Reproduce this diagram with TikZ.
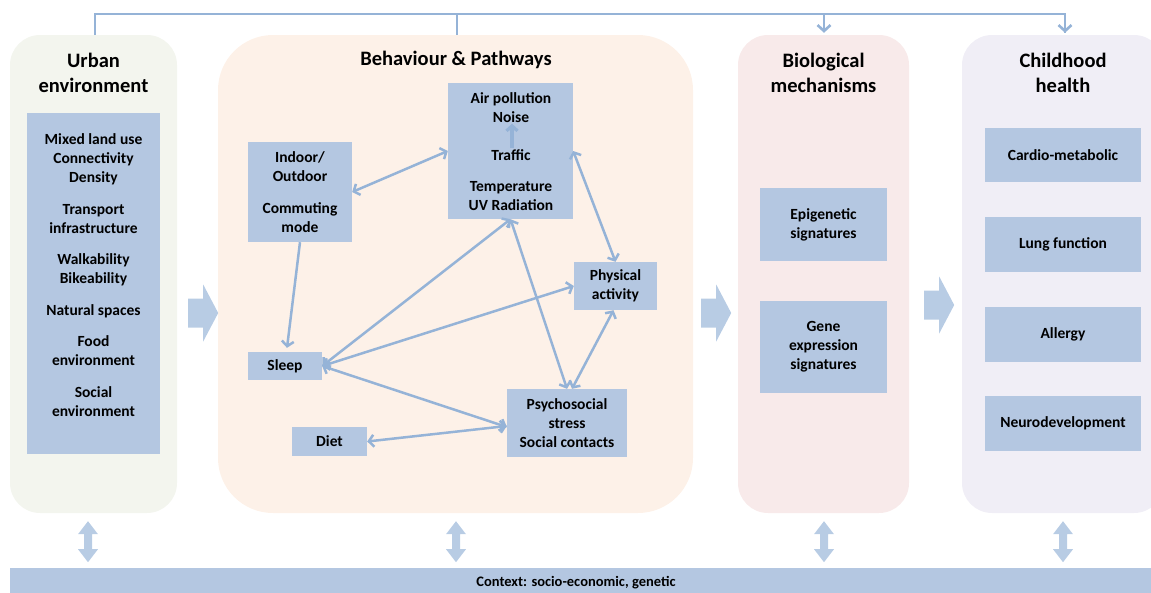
\documentclass[tikz,border=0pt]{standalone}
\usepackage{fontspec}
\setmainfont{Carlito}
\usetikzlibrary{arrows.meta,calc}
\definecolor{linec}{HTML}{95B3D7}
\definecolor{boxc}{HTML}{B4C7E1}
\definecolor{arrc}{HTML}{B8CCE4}
\definecolor{urbc}{HTML}{F3F5EE}
\definecolor{behc}{HTML}{FDF1E8}
\definecolor{bioc}{HTML}{F8EAEA}
\definecolor{chc}{HTML}{F0EEF6}
\tikzset{
  panel/.style={rounded corners=30pt, inner sep=0pt},
  bx/.style={fill=boxc, inner sep=0pt, align=center, font=\bfseries\fontsize{15.5}{19}\selectfont},
  txt/.style={inner sep=0pt, align=center, font=\bfseries\fontsize{15.5}{19}\selectfont},
  ttl/.style={inner sep=0pt, align=center, font=\bfseries\fontsize{20.5}{25}\selectfont},
  conn/.style={draw=linec, line width=2.5pt, >={Straight Barb[length=5pt,width=12pt]}},
  trafficarrow/.style={draw=linec, line width=3.2pt, >={Straight Barb[length=5pt,width=11pt]}},
  topl/.style={draw=linec, line width=2.6pt, >={Straight Barb[length=6pt,width=13pt]}},
  blockarrow/.pic={\fill[arrc] (0,-14.5) -- (15,-14.5) -- (15,-28.5) -- (30,0) -- (15,28.5) -- (15,14.5) -- (0,14.5) -- cycle;},
  dblarrow/.pic={\fill[arrc] (0,0) -- (10,13) -- (4,13) -- (4,28) -- (10,28) -- (0,41) -- (-10,28) -- (-4,28) -- (-4,13) -- (-10,13) -- cycle;}
}
\begin{document}
\begin{tikzpicture}[x=1pt,y=-1pt]
\useasboundingbox (0,0) rectangle (1151,592);
\begin{scope}
\clip (0,0) rectangle (1151,592);
% panels
\node[panel, fill=urbc, minimum width=167pt, minimum height=478pt] (urb) at (93.5,274) {};
\node[panel, fill=behc, rounded corners=55pt, minimum width=475pt, minimum height=478pt] (beh) at (455.5,274) {};
\node[panel, fill=bioc, minimum width=171pt, minimum height=478pt] (bio) at (823.5,274) {};
\node[panel, fill=chc, minimum width=202pt, minimum height=478pt] (child) at (1063,274) {};
% context bar
\node[fill=boxc, inner sep=0pt, minimum width=1180pt, minimum height=26pt, anchor=north west] (ctx) at (10,568) {};
\node[inner sep=0pt, font=\bfseries\fontsize{14.5}{16}\selectfont] (ctxt) at (576,583) {Context: socio-economic, genetic};
\end{scope}
% titles
\node[ttl] (urbt) at (93.5,72.5) {Urban\\environment};
\node[ttl] (beht) at (456,60) {Behaviour \& Pathways};
\node[ttl] (biot) at (823.5,72.5) {Biological\\mechanisms};
\node[ttl] (cht) at (1063,72.5) {Childhood\\health};
% urban box
\node[bx, minimum width=133pt, minimum height=341pt] (ubox) at (93.5,283.5) {};
\node[txt, anchor=base] (utext) at (93.5,416) {Mixed land use\\Connectivity\\Density\\[12.5pt]Transport\\infrastructure\\[12.5pt]Walkability\\Bikeability\\[12.5pt]Natural spaces\\[12.5pt]Food\\environment\\[12.5pt]Social\\environment};
% behaviour boxes
\node[bx, minimum width=104pt, minimum height=100pt] (indoor) at (300,192) {Indoor/\\Outdoor\\[13pt]Commuting\\mode};
\node[bx, minimum width=125pt, minimum height=136pt] (air) at (510.5,151) {};
\node[txt] (noise) at (511,107.5) {Air pollution\\Noise};
\node[txt] (traffic) at (511,155) {Traffic};
\node[txt] (temp) at (511,196.5) {Temperature\\UV Radiation};
\node[bx, minimum width=83pt, minimum height=48pt] (phys) at (615.5,286) {Physical\\activity};
\node[bx, minimum width=74pt, minimum height=28pt] (sleep) at (285,366) {Sleep};
\node[bx, minimum width=75pt, minimum height=29pt] (diet) at (329.5,441.5) {Diet};
\node[bx, minimum width=120pt, minimum height=68pt] (psy) at (567,423) {Psychosocial\\stress\\Social contacts};
% biological boxes
\node[bx, minimum width=127pt, minimum height=73pt] (epi) at (823.5,224.5) {Epigenetic\\signatures};
\node[bx, minimum width=127pt, minimum height=92pt] (gene) at (823.5,347) {Gene\\expression\\signatures};
% health boxes
\node[bx, minimum width=156pt, minimum height=54pt] (cardio) at (1063,155) {Cardio-metabolic};
\node[bx, minimum width=156pt, minimum height=55pt] (lung) at (1063,244.5) {Lung function};
\node[bx, minimum width=156pt, minimum height=55pt] (allergy) at (1063,334.5) {Allergy};
\node[bx, minimum width=156pt, minimum height=55pt] (neuro) at (1063,423.5) {Neurodevelopment};
% top connector
\draw[topl] ($(urb.north)+(1.5,0)$) -- ($(urb.north)+(1.5,-21)$) -| ($(child.north)+(2,-2)$);
\draw[topl] ($(beh.north)+(1.5,0)$) -- ($(beh.north)+(1.5,-21)$);
\draw[topl,->] ($(bio.north)+(0.5,-21)$) -- ($(bio.north)+(0.5,-2)$);
\draw[topl,->] ($(child.north)+(2,-10)$) -- ($(child.north)+(2,-2)$);
% internal connectors
\draw[trafficarrow,->] ($(traffic.north)+(1,-1)$) -- ($(noise.south)+(1,1)$);
\draw[conn,<->] (indoor.east) -- (air.west);
\draw[conn,->] (indoor.south) -- ($(sleep.north)+(2,-4)$);
\draw[conn,<->] (air.east) -- (phys.north);
\draw[conn,<->] (sleep.east) -- (air.south);
\draw[conn,<->] (sleep.east) -- (phys.west);
\draw[conn,<->] (sleep.east) -- ($(psy.west)+(0,4)$);
\draw[conn,<->] (diet.east) -- ($(psy.west)+(0,3)$);
\draw[conn,<->] (psy.north) -- (air.south);
\draw[conn,<->] ($(psy.north)+(5,0)$) -- ($(phys.south)+(-2,0)$);
% block arrows
\pic at ($(urb.east)+(11,39)$) {blockarrow};
\pic at ($(beh.east)+(8,39)$) {blockarrow};
\pic at ($(bio.east)+(15,31)$) {blockarrow};
% double arrows to context
\pic at ($(urb.south)+(-5.5,8)$) {dblarrow};
\pic at ($(beh.south)+(0.5,8)$) {dblarrow};
\pic at ($(bio.south)+(0.5,8)$) {dblarrow};
\pic at ($(child.south)+(0,8)$) {dblarrow};
\end{tikzpicture}
\end{document}
